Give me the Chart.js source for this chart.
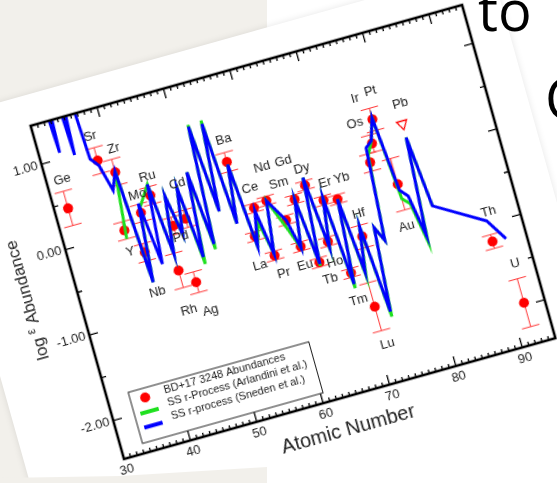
<!DOCTYPE html>
<html>
<head>
<meta charset="utf-8">
<script src="https://cdn.jsdelivr.net/npm/chart.js@4.4.0/dist/chart.umd.min.js"></script>
<style>
  html, body { margin: 0; padding: 0; }
  body { width: 557px; height: 483px; overflow: hidden; position: relative; background: #fff; }
  .slide-bg { position: absolute; left: 0; top: 0; width: 267px; height: 483px; background: #f2f0eb; }
  .slide-foot { position: absolute; left: 0; top: 460px; width: 267px; height: 23px; background: #f2f0eb;
    clip-path: polygon(0 18px, 120px 16px, 267px 7px, 267px 23px, 0 23px); }
  .frame { position: absolute; left: 43.6px; top: 92.6px; width: 548px; height: 426px;
    transform-origin: 80px 366px; transform: rotate(-15.65deg); }
  .paper { position: absolute; left: -17px; top: -11px; width: 583px; height: 560px; background: #fff;
    box-shadow: 0 0 7px rgba(0,0,0,0.10); }
  .frame canvas { position: absolute; left: 0; top: 0; }
  .word { position: absolute; font-family: "Open Sans", sans-serif; font-size: 56px; color: #000; line-height: 1; white-space: nowrap; }
</style>
</head>
<body>
<div class="slide-bg"></div>
<div class="frame">
  <div class="paper"></div>
  <canvas id="abund" width="548" height="426"></canvas>
</div>
<div class="slide-foot"></div>
<div class="word" style="left:478px; top:-19px;">to</div>
<div class="word" style="left:545px; top:69px;">C</div>

<script>
// BD+17 3248 measured abundances
const elements = ['Ge','Sr','Y','Zr','Nb','Mo','Ru','Rh','Pd','Ag','Cd','Ba','La','Ce','Pr','Nd','Sm','Eu','Gd','Tb','Dy','Ho','Er','Tm','Yb','Lu','Hf','Os','Ir','Pt','Au','Th','U'];
const atomicNumbers = [32,38,39,40,41,42,44,45,46,47,48,56,57,58,59,60,62,63,64,65,66,67,68,69,70,71,72,76,77,78,79,90,92];
const logEps = [0.44,0.87,0.03,0.69,-0.27,0.17,0.33,-0.57,-0.07,-0.75,-0.03,0.46,-0.43,-0.12,-0.70,-0.08,-0.35,-0.68,-0.15,-0.91,-0.03,-0.71,-0.25,-1.12,-0.28,-1.56,-0.76,0.02,0.22,0.48,-0.30,-1.21,-1.97];
const logEpsErr = [0.20,0.15,0.10,0.15,0.10,0.10,0.10,0.20,0.10,0.12,0.10,0.11,0.05,0.05,0.05,0.05,0.05,0.05,0.05,0.05,0.05,0.05,0.05,0.05,0.05,0.28,0.13,0.10,0.10,0.13,0.30,0.08,0.28];

// Pb: upper limit only
const pbZ = 82;
const pbLimit = 0.34;

// scaled solar-system r-process, Sneden et al.
const snedenZ = [32,33,34,35,36,37,38,39,40,41,42,43,44,45,46,47,48,49,50,51,52,53,54,55,56,57,58,59,60,62,63,64,65,66,67,68,69,70,71,72,73,74,75,76,77,78,79,80,81,82,83,90,92];
const sneden = [2.8,1.07,3.0,1.00,2.6,0.91,0.81,0.50,0.70,-0.62,0.28,-0.45,0.46,-0.38,0.28,-0.19,0.33,-0.50,0.47,-0.39,0.96,-0.05,0.95,-0.24,0.43,-0.55,-0.15,-0.68,-0.08,-0.35,-0.70,-0.15,-0.93,0.06,-0.78,-0.22,-1.25,-0.28,-1.15,-0.64,-1.66,-0.70,-0.87,0.19,0.25,0.50,-0.37,-0.46,-0.94,0.18,-0.64,-0.97,-1.22];

// scaled solar-system r-process, Arlandini et al. (starts at Y)
const arlandiniZ = [39,40,41,42,44,45,46,47,48,49,50,51,52,53,54,55,56,57,58,59,60,62,63,64,65,66,67,68,69,70,71,72,73,74,75,76,77,78,79,80,81,82,83];
const arlandini = [-0.07,0.70,-0.62,0.22,0.46,-0.38,0.28,-0.19,0.33,-0.58,0.47,-0.45,0.98,-0.05,0.99,-0.24,0.43,-0.55,-0.28,-0.68,-0.08,-0.48,-0.70,-0.15,-0.95,0.06,-0.80,-0.22,-1.30,-0.28,-1.20,-0.64,-1.72,-0.70,-0.87,0.10,0.25,0.50,-0.47,-0.55,-1.02,0.18,-0.64];

const xTicks = [30,40,50,60,70,80,90];
const yTicks = [-2,-1,0,1];

// where each element name sits (data units)
const labelAt = {
  Ge:[32.3,0.77], Sr:[37.9,1.15], Zr:[40.7,0.95], Ru:[44.3,0.54], Mo:[42.2,0.38], Cd:[48.2,0.38],
  Ba:[56.4,0.71], Y:[39.0,-0.22], Nb:[41.2,-0.74], Pd:[46.6,-0.21], Rh:[44.9,-1.03], Ag:[47.9,-1.10],
  Ce:[58.2,0.10], Nd:[60.7,0.30], Gd:[63.9,0.29], Sm:[62.4,0.07], Dy:[66.2,0.16], Er:[68.9,-0.07],
  Yb:[71.4,-0.07], Hf:[72.4,-0.50], La:[56.6,-0.76], Pr:[59.6,-0.92], Eu:[62.9,-0.90], Ho:[67.2,-0.95],
  Tb:[65.9,-1.12], Tm:[69.0,-1.44], Lu:[71.3,-2.0], Os:[75.4,0.49], Ir:[76.4,0.76], Pt:[78.8,0.79],
  Pb:[82.5,0.57], Au:[78.6,-0.79], Th:[90.6,-0.88], U:[92.3,-1.52]
};

const FONT = '"Liberation Sans", Arial, sans-serif';
const RED = '#ff0000';
const GREEN = '#1ee01e';
const BLUE = '#0000ff';

const pts = (xs, ys) => xs.map((x, i) => ({x, y: ys[i]}));

// error bars under everything else
const errorBars = {
  id: 'errorBars',
  beforeDatasetsDraw(chart) {
    const {ctx, chartArea: a, scales: {x, y}} = chart;
    ctx.save();
    ctx.beginPath();
    ctx.rect(a.left, a.top, a.width, a.height);
    ctx.clip();
    ctx.strokeStyle = '#ff3a3a';
    ctx.lineWidth = 1;
    atomicNumbers.forEach((z, i) => {
      const px = x.getPixelForValue(z);
      const hi = y.getPixelForValue(logEps[i] + logEpsErr[i]);
      const lo = y.getPixelForValue(logEps[i] - logEpsErr[i]);
      ctx.beginPath();
      ctx.moveTo(px, hi); ctx.lineTo(px, lo);
      ctx.moveTo(px - 9, hi); ctx.lineTo(px + 9, hi);
      ctx.moveTo(px - 9, lo); ctx.lineTo(px + 9, lo);
      ctx.stroke();
    });
    ctx.restore();
  }
};

// frame with inward ticks, element names, axis titles and the key box
const decorations = {
  id: 'decorations',
  afterDraw(chart) {
    const {ctx, chartArea: a, scales: {x, y}} = chart;
    ctx.save();
    ctx.strokeStyle = '#000';
    ctx.lineWidth = 1.3;
    ctx.beginPath();
    for (let v = 30; v <= 95; v++) {
      const px = x.getPixelForValue(v);
      const len = v % 10 === 0 ? 10 : 4;
      ctx.moveTo(px, a.bottom); ctx.lineTo(px, a.bottom - len);
      ctx.moveTo(px, a.top); ctx.lineTo(px, a.top + len);
    }
    for (let v = -2; v <= 1; v += 0.5) {
      const py = y.getPixelForValue(v);
      const len = Number.isInteger(v) ? 9 : 5;
      ctx.moveTo(a.left, py); ctx.lineTo(a.left + len, py);
      ctx.moveTo(a.right, py); ctx.lineTo(a.right - len, py);
    }
    ctx.stroke();
    ctx.lineWidth = 2.6;
    ctx.strokeRect(a.left, a.top, a.width, a.height);

    // element names
    ctx.fillStyle = '#222';
    ctx.font = '13px ' + FONT;
    ctx.textAlign = 'center';
    ctx.textBaseline = 'middle';
    Object.entries(labelAt).forEach(([name, [lx, ly]]) => {
      ctx.fillText(name, x.getPixelForValue(lx), y.getPixelForValue(ly));
    });

    // axis titles
    ctx.font = '20px ' + FONT;
    ctx.fillText('Atomic Number', (a.left + a.right) / 2, a.bottom + 32);
    ctx.save();
    ctx.translate(a.left - 50, a.bottom - 179);
    ctx.rotate(-Math.PI / 2);
    const parts = [['log ', 17, 0], ['\u03b5', 12, -4], [' Abundance', 17, 0]];
    let total = 0;
    parts.forEach(([t, s]) => { ctx.font = s + 'px ' + FONT; total += ctx.measureText(t).width; });
    let cx = -total / 2;
    ctx.textAlign = 'left';
    parts.forEach(([t, s, dy]) => {
      ctx.font = s + 'px ' + FONT;
      ctx.fillText(t, cx, dy);
      cx += ctx.measureText(t).width;
    });
    ctx.restore();

    // key box
    const bx = a.left + 22, by = a.bottom - 63, bw = 187.5, bh = 53;
    ctx.fillStyle = '#fff';
    ctx.fillRect(bx, by, bw, bh);
    ctx.strokeStyle = '#222';
    ctx.lineWidth = 1;
    ctx.strokeRect(bx, by, bw, bh);
    const ds = chart.data.datasets;
    const rows = [ds[0], ds[2], ds[3]];
    ctx.font = '11px ' + FONT;
    ctx.textAlign = 'left';
    ctx.textBaseline = 'middle';
    rows.forEach((d, i) => {
      const sy = by + 9.5 + i * 14.4;
      if (i === 0) {
        ctx.fillStyle = RED;
        ctx.beginPath(); ctx.arc(bx + 15, sy, 5, 0, Math.PI * 2); ctx.fill();
      } else {
        ctx.strokeStyle = d.borderColor;
        ctx.lineWidth = 4;
        ctx.beginPath(); ctx.moveTo(bx + 6, sy); ctx.lineTo(bx + 25, sy); ctx.stroke();
      }
      ctx.fillStyle = '#222';
      ctx.fillText(d.label, bx + 35, by + 7.5 + i * 13.8);
    });
    ctx.restore();
  }
};

new Chart(document.getElementById('abund'), {
  type: 'scatter',
  data: {
    datasets: [
      {
        label: 'BD+17 3248 Abundances',
        data: pts(atomicNumbers, logEps),
        backgroundColor: RED, borderColor: RED,
        pointRadius: 5, pointBorderWidth: 0, order: 3
      },
      {
        label: 'Pb upper limit',
        data: [{x: pbZ, y: pbLimit}],
        pointStyle: 'triangle', pointRotation: 180, pointRadius: 6,
        backgroundColor: '#fff', borderColor: RED, pointBorderWidth: 1.3, order: 3
      },
      {
        label: 'SS r-Process (Arlandini et al.)',
        type: 'line',
        data: pts(arlandiniZ, arlandini),
        borderColor: GREEN, borderWidth: 3, pointRadius: 0, tension: 0, order: 2
      },
      {
        label: 'SS r-process (Sneden et al.)',
        type: 'line',
        data: pts(snedenZ, sneden),
        borderColor: BLUE, borderWidth: 3, pointRadius: 0, tension: 0, order: 1
      }
    ]
  },
  options: {
    responsive: false,
    animation: false,
    devicePixelRatio: 1,
    layout: { padding: { left: 10, top: 20, right: 20, bottom: 0 } },
    plugins: { legend: { display: false }, tooltip: { enabled: false } },
    scales: {
      x: {
        type: 'linear', min: 30, max: 95,
        afterFit(s) { s.height = 60; },
        afterBuildTicks(s) { s.ticks = xTicks.map(v => ({value: v})); },
        grid: { display: false, drawTicks: false },
        border: { display: false },
        ticks: { font: { size: 13, family: FONT }, color: '#222', padding: 4, maxRotation: 0 }
      },
      y: {
        type: 'linear', min: -2.45, max: 1.45,
        afterFit(s) { s.width = 70; },
        afterBuildTicks(s) { s.ticks = yTicks.map(v => ({value: v})); },
        grid: { display: false, drawTicks: false },
        border: { display: false },
        ticks: { font: { size: 13, family: FONT }, color: '#222', padding: 4,
          callback: v => v.toFixed(2) }
      }
    }
  },
  plugins: [errorBars, decorations]
});
</script>
</body>
</html>
